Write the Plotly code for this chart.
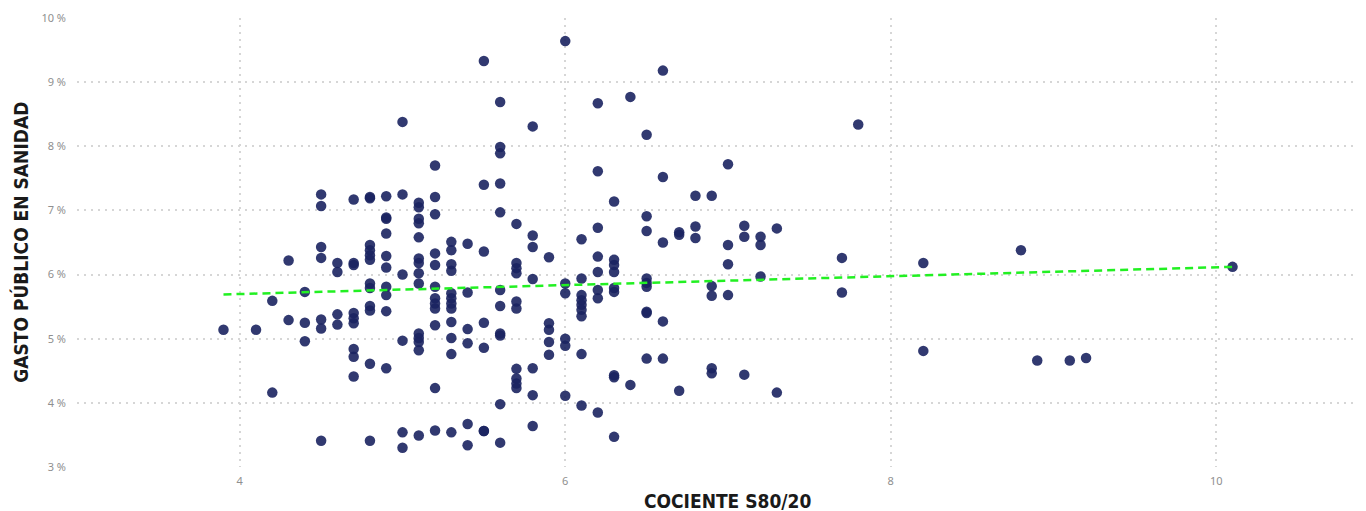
"""Scatter: gasto público en sanidad vs cociente S80/20."""

import plotly.graph_objects as go

# Points (S80/20 value -> gasto %)
columns = [
    (3.9, [5.14]),
    (4.1, [5.14]),
    (4.2, [5.59, 4.16]),
    (4.3, [6.22, 5.29]),
    (4.4, [5.73, 5.25, 4.96]),
    (4.5, [7.25, 7.07, 6.43, 6.26, 5.30, 5.16, 3.41]),
    (4.6, [6.18, 6.04, 5.38, 5.22]),
    (4.7, [7.17, 6.18, 6.15, 5.40, 5.32, 5.24, 4.84, 4.72, 4.41]),
    (4.8, [7.21, 7.19, 6.46, 6.38, 6.30, 6.23, 5.86, 5.79, 5.51, 5.44, 4.61, 3.41]),
    (4.9, [7.22, 6.89, 6.87, 6.64, 6.29, 6.11, 5.81, 5.68, 5.43, 4.54]),
    (5.0, [8.38, 7.25, 6.00, 4.97, 3.54, 3.30]),
    (5.1, [7.12, 7.05, 6.87, 6.80, 6.58, 6.25, 6.18, 6.02, 5.86, 5.08, 5.01, 4.95, 4.82, 3.49]),
    (5.2, [7.70, 7.21, 6.94, 6.33, 6.15, 5.81, 5.63, 5.55, 5.47, 5.21, 4.23, 3.57]),
    (5.3, [6.51, 6.38, 6.16, 6.06, 5.71, 5.63, 5.55, 5.47, 5.26, 5.01, 4.76, 3.54]),
    (5.4, [6.48, 5.72, 5.15, 4.93, 3.67, 3.34]),
    (5.5, [9.33, 7.40, 6.36, 5.25, 4.86, 3.56, 3.56]),
    (5.6, [8.69, 7.99, 7.89, 7.42, 6.97, 5.76, 5.51, 5.08, 5.05, 3.98, 3.38]),
    (5.7, [6.79, 6.18, 6.10, 6.02, 5.58, 5.47, 4.53, 4.38, 4.30, 4.23]),
    (5.8, [8.31, 6.61, 6.43, 5.93, 4.54, 4.12, 3.64]),
    (5.9, [6.27, 5.24, 5.14, 4.95, 4.75]),
    (6.0, [9.64, 5.86, 5.71, 5.00, 4.89, 4.11]),
    (6.1, [6.55, 5.94, 5.68, 5.60, 5.53, 5.45, 5.35, 4.76, 3.96]),
    (6.2, [8.67, 7.61, 6.73, 6.28, 6.04, 5.76, 5.63, 3.85]),
    (6.3, [7.14, 6.23, 6.15, 6.04, 5.79, 5.73, 4.43, 4.40, 3.47]),
    (6.4, [8.77, 4.28]),
    (6.5, [8.18, 6.91, 6.68, 5.94, 5.87, 5.81, 5.42, 5.40, 4.69]),
    (6.6, [9.18, 7.52, 6.50, 5.27, 4.69]),
    (6.7, [6.66, 6.62, 4.19]),
    (6.8, [7.23, 6.75, 6.57]),
    (6.9, [7.23, 5.82, 5.67, 4.54, 4.46]),
    (7.0, [7.72, 6.46, 6.16, 5.68]),
    (7.1, [6.76, 6.59, 4.44]),
    (7.2, [6.59, 6.46, 5.97]),
    (7.3, [6.72, 4.16]),
    (7.7, [6.26, 5.72]),
    (7.8, [8.34]),
    (8.2, [6.18, 4.81]),
    (8.8, [6.38]),
    (8.9, [4.66]),
    (9.1, [4.66]),
    (9.2, [4.70]),
    (10.1, [6.12]),
]

cociente = [x for x, ys in columns for _ in ys]
gasto = [y for _, ys in columns for y in ys]

# Trend line end points as drawn
trend_x = [3.9, 10.1]
trend_y = [5.69, 6.12]

y_ticks = [3, 4, 5, 6, 7, 8, 9, 10]
y_tick_text = ["3 %", "4 %", "5 %", "6 %", "7 %", "8 %", "9 %", "10 %"]
x_ticks = [4, 6, 8, 10]

x_title = "COCIENTE S80/20"
y_title = "GASTO PÚBLICO EN SANIDAD"

TITLE_FONT = dict(family="DejaVu Sans Condensed, Liberation Sans Narrow, sans-serif",
                  size=19, color="#1a1a1a", weight="bold")
TICK_FONT = dict(family="Noto Sans, sans-serif", size=11, color="#8f8f8f")


def build_chart():
    fig = go.Figure()

    fig.add_trace(go.Scatter(
        x=cociente, y=gasto, mode="markers",
        marker=dict(size=10.5, color="#1b2360", opacity=0.9,
                    line=dict(width=0)),
        hoverinfo="x+y",
    ))

    fig.add_trace(go.Scatter(
        x=trend_x, y=trend_y, mode="lines",
        line=dict(color="#22f022", width=2.5, dash="8px,5px"),
        hoverinfo="skip",
    ))

    grid = dict(showgrid=True, gridcolor="#d6d6d6", gridwidth=1.5, griddash="2px,5px",
                zeroline=False, showline=False, ticks="", tickfont=TICK_FONT,
                automargin=False)

    fig.update_xaxes(range=[3, 10.92], tickvals=x_ticks, ticklabelstandoff=6, **grid)
    fig.update_yaxes(range=[3, 10], tickvals=y_ticks, ticktext=y_tick_text,
                     ticklabelstandoff=10, **grid)

    # axis titles placed as annotations so they sit where the original has them
    fig.add_annotation(text=x_title, xref="paper", yref="paper", x=0.505, y=-0.076,
                       xanchor="center", yanchor="middle", showarrow=False, font=TITLE_FONT)
    fig.add_annotation(text=y_title, xref="paper", yref="paper", x=-0.044, y=0.5,
                       xanchor="center", yanchor="middle", textangle=-90,
                       showarrow=False, font=TITLE_FONT)

    # page body has an 8px margin, so the figure is 8px smaller than the window
    fig.update_layout(
        width=1358, height=503,
        plot_bgcolor="white", paper_bgcolor="white",
        showlegend=False,
        margin=dict(l=69, r=0, t=10, b=44),
    )
    return fig


if __name__ == "__main__":
    fig = build_chart()
    fig.write_html("out.html")
